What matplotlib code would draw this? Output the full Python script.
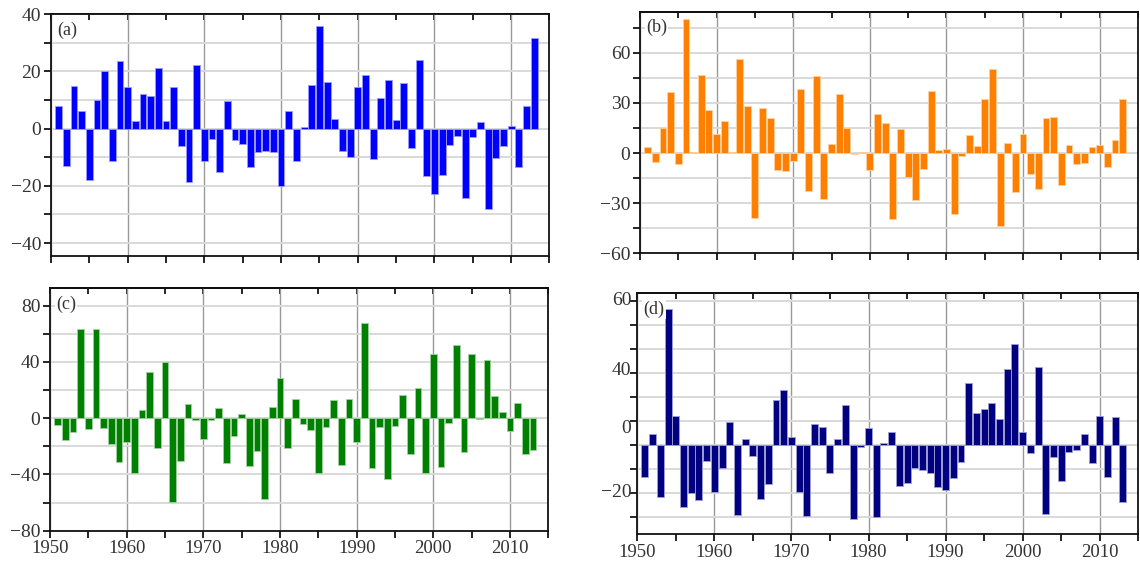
import matplotlib
matplotlib.use("Agg")
import matplotlib.pyplot as plt
from matplotlib.ticker import MultipleLocator
import numpy as np

plt.rcParams['font.family'] = ['Liberation Serif', 'DejaVu Serif']

years = np.arange(1951, 2014)

series_a = [8, -13, 15, 6, -18, 10, 20, -11.3, 23.6, 14.4,
            2.8, 12.2, 11.5, 21.2, 2.6, 14.4, -6, -18.5, 22.1, -11.3,
            -3.5, -15.1, 9.7, -4.1, -5.5, -13.4, -8.1, -7.8, -8.3, -19.9,
            6, -11.3, 0.5, 15.3, 35.8, 16.4, 3.3, -7.9, -9.9, 14.4,
            18.7, -10.8, 10.6, 16.9, 2.9, 15.9, -6.9, 23.8, -16.5, -22.9,
            -16.2, -5.8, -2.6, -24.3, -2.9, 2.4, -28, -10.3, -6.2, 0.9,
            -13.4, 7.9, 31.5]

series_b = [3.4, -5.6, 15, 36.6, -6.4, 80, 0.6, 46.6, 26, 11.4,
            19.4, 0.4, 56.2, 28, -38.6, 27.2, 21.2, -10.4, -10.8, -4.6,
            38.4, -22.6, 46, -27.6, 5.6, 35.2, 15, -0.6, 0.4, -10.2,
            23.3, 17.9, -39.4, 14.1, -14.5, -28, -9.3, 37, 2, 2.4,
            -36.4, -1.6, 10.9, 4.2, 32.2, 50.1, -43.9, 5.8, -23.5, 11.3,
            -12.3, -21.3, 21.1, 21.5, -19.1, 4.6, -6.4, -5.8, 3.4, 4.6,
            -8.3, 7.6, 32.4]

series_c = [-4.7, -15.2, -9.8, 63.8, -7.4, 63.3, -6.7, -18.6, -31.2, -16.9,
            -38.8, 5.5, 33.1, -21.2, 39.8, -59.5, -30.2, 9.8, -1.4, -14.8,
            -1.2, 7.6, -32.1, -12.6, 3.3, -34.3, -23.6, -57.1, 8.1, 28.5,
            -21.3, 13.7, -4.3, -8.5, -38.9, -6.4, 13, -33.6, 14, -17,
            68, -35.5, -6.6, -43.1, -5.7, 16.6, -25.6, 21.6, -38.9, 45.5,
            -34.8, -3.1, 52.1, -23.7, 45.5, -0.8, 41.7, 15.6, 4.5, -9.2,
            10.7, -25.8, -22.3]

series_d = [-13.5, 4.4, -21.7, 56.7, 11.9, -25.8, -19.9, -22.8, -6.7, -19.6,
            -9.4, 9.4, -29, 2.6, -4.7, -22.4, -16.3, 18.6, 23.1, 3.2,
            -19.4, -29.6, 8.6, 7.5, -11.5, 2.4, 16.8, -30.7, -1, 7.1,
            -29.9, 1, 5.6, -16.9, -15.8, -9.4, -10.3, -11.5, -17.5, -18.6,
            -13.9, -7.1, 25.8, 13.3, 15, 17.5, 10.8, 31.5, 42.1, 5.4,
            -3.5, 32.5, -28.8, -4.9, -14.9, -2.9, -2.2, 4.6, -7.5, 11.9,
            -13.5, 11.5, -23.9]

panels = [
    dict(data=series_a, color='#0000ff', edge='#9a9aff', label='(a)',
         rect=[0.0447, 0.5437, 0.4373, 0.4313], ylim=(-44.5, 40),
         major=20, minor=10, xlabels=False),
    dict(data=series_b, color='#ff8000', edge='#ffd0a0', label='(b)',
         rect=[0.5614, 0.5485, 0.4368, 0.4307], ylim=(-60, 84.6),
         major=30, minor=15, xlabels=False),
    dict(data=series_c, color='#008000', edge='#a0d0a0', label='(c)',
         rect=[0.0439, 0.0540, 0.4371, 0.4321], ylim=(-80, 92.4),
         major=40, minor=20, xlabels=True),
    dict(data=series_d, color='#000080', edge='#a0a0d0', label='(d)',
         rect=[0.5590, 0.0481, 0.4395, 0.4291], ylim=(-37.1, 63.2),
         major=None, minor=10, xlabels=True),
]

# panel (d) prints its y labels at odd heights in the source figure
d_ticklabels = ['60', '40', '0', '\u221220']
d_labelpos = [60, 31, 7, -20]

txt = '#333333'
fig = plt.figure(figsize=(11.4, 5.61), dpi=100)

for p in panels:
    ax = fig.add_axes(p['rect'])
    ax.bar(years, p['data'], width=0.9, color=p['color'],
           edgecolor=p['edge'], linewidth=0.6, zorder=3)
    ax.set_xlim(1950, 2015)
    ax.set_ylim(*p['ylim'])

    ax.xaxis.set_major_locator(MultipleLocator(10))
    ax.xaxis.set_minor_locator(MultipleLocator(5))
    ax.tick_params(axis='x', which='both', direction='out', length=5,
                   width=1.2, labelsize=13.5, labelbottom=p['xlabels'],
                   pad=2, labelcolor=txt)
    top = ax.secondary_xaxis('top')
    top.xaxis.set_major_locator(MultipleLocator(5))
    top.tick_params(direction='in', length=4, width=1.2, labeltop=False)
    top.spines['top'].set_linewidth(1.3)

    if p['major'] is not None:
        ax.yaxis.set_major_locator(MultipleLocator(p['major']))
        ax.yaxis.set_minor_locator(MultipleLocator(p['minor']))
    else:
        ax.yaxis.set_major_locator(MultipleLocator(p['minor']))
        ax.set_yticklabels([])
        for v, t in zip(d_labelpos, d_ticklabels):
            ax.text(-0.012, v, t, transform=ax.get_yaxis_transform(),
                    ha='right', va='center', fontsize=14, color=txt)
    ax.tick_params(axis='y', which='both', direction='out', length=5,
                   width=1.2, labelsize=14, pad=2, labelcolor=txt)

    ax.grid(axis='y', which='both', color='#d9d9d9', linewidth=1.4, zorder=0)
    ax.grid(axis='x', which='major', color='#999999', linewidth=1.0, zorder=1)
    ax.grid(axis='x', which='minor', visible=False)

    for s in ax.spines.values():
        s.set_linewidth(1.3)
        s.set_color('#111111')

    ax.text(0.012, 0.97, p['label'], transform=ax.transAxes, ha='left',
            va='top', fontsize=13, color=txt, zorder=5,
            bbox=dict(facecolor='white', edgecolor='none', pad=1))

fig.savefig('out.png', dpi=100)
